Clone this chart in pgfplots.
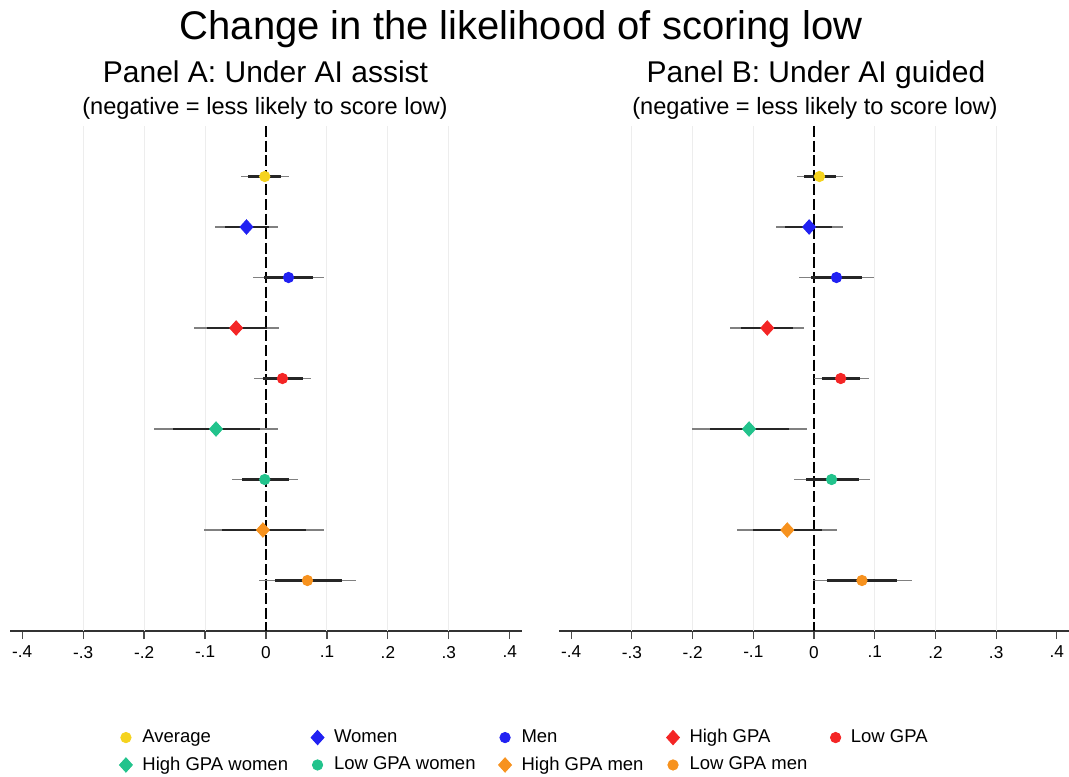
\documentclass[border=0pt]{standalone}
\usepackage{fontspec}
\setmainfont{Liberation Sans}
\usepackage{pgfplots}
\usepackage{pgfplotstable}
\pgfplotsset{compat=1.18}
\definecolor{cavg}{HTML}{F5D31E}
\definecolor{cblue}{HTML}{2121F2}
\definecolor{cred}{HTML}{F42525}
\definecolor{cteal}{HTML}{22C38C}
\definecolor{corange}{HTML}{F7921E}
\definecolor{gridc}{HTML}{EDEDED}

\pgfplotstableread{
row b lo95 hi95 lo90 hi90
1 -0.002 -0.041 0.037 -0.029 0.025
2 -0.032 -0.084 0.020 -0.068 0.005
3 0.037 -0.021 0.095 -0.003 0.077
4 -0.049 -0.118 0.022 -0.097 0.001
5 0.027 -0.019 0.074 -0.005 0.061
6 -0.082 -0.184 0.020 -0.153 -0.010
7 -0.002 -0.056 0.053 -0.040 0.037
8 -0.005 -0.102 0.095 -0.072 0.065
9 0.068 -0.011 0.148 0.014 0.125
}\panelA
\pgfplotstableread{
row b lo95 hi95 lo90 hi90
1 0.009 -0.028 0.048 -0.017 0.036
2 -0.008 -0.063 0.047 -0.047 0.030
3 0.037 -0.024 0.098 -0.005 0.079
4 -0.077 -0.139 -0.016 -0.121 -0.034
5 0.044 0.000 0.090 0.013 0.076
6 -0.107 -0.201 -0.012 -0.172 -0.041
7 0.029 -0.033 0.093 -0.014 0.074
8 -0.044 -0.127 0.038 -0.101 0.013
9 0.079 -0.001 0.162 0.022 0.137
}\panelB

\pgfplotsset{
  panel/.style={
    scale only axis, height=252.5pt,
    xmin=-0.42, xmax=0.42, ymin=0, ymax=10, y dir=reverse,
    axis x line*=bottom, axis y line=none,
    axis line style={draw=black!80, line width=0.6pt},
    xtick={-0.4,-0.3,-0.2,-0.1,0,0.1,0.2,0.3,0.4},
    xticklabels={-.4,-.3,-.2,-.1,0,.1,.2,.3,.4},
    xtick align=outside, major tick length=4pt,
    tick style={draw=black!70, line width=0.6pt},
    ticklabel style={font=\fontsize{8.6}{10}\selectfont},
    ytick=\empty,
    clip=false,
  },
  ci95/.style={only marks, mark=none, forget plot,
    error bars/.cd, x dir=both, x explicit, error mark=none,
    error bar style={draw=black!50, line width=0.7pt}},
  ci90/.style={only marks, mark=none, forget plot,
    error bars/.cd, x dir=both, x explicit, error mark=none,
    error bar style={draw=black!85, line width=1.4pt}},
  circ/.style={mark=*, mark size=2.6pt},
  diam/.style={mark=diamond*, mark size=3.6pt, mark options={xscale=1.2}},
}

\newcommand{\panelbody}[1]{%
  \pgfplotsinvokeforeach{-0.3,-0.2,-0.1,0.1,0.2,0.3}{\draw[gridc, line width=0.5pt] (axis cs:##1,0) -- (axis cs:##1,10);}
  \draw[black, line width=0.6pt, dash pattern=on 5.5pt off 1.8pt] (axis cs:0,0) -- (axis cs:0,10);
  \addplot[ci95] table[x=b, y=row, x error plus expr=\thisrow{hi95}-\thisrow{b}, x error minus expr=\thisrow{b}-\thisrow{lo95}] {#1};
  \addplot[ci90] table[x=b, y=row, x error plus expr=\thisrow{hi90}-\thisrow{b}, x error minus expr=\thisrow{b}-\thisrow{lo90}] {#1};
}

\begin{document}
\begin{tikzpicture}
\path[use as bounding box] (0,0) rectangle (534.5pt,388pt);

\begin{axis}[panel, width=256pt, at={(5pt,72.5pt)}, anchor=south west,
  legend columns=5,
  legend cell align=left,
  legend image code/.code={\draw[#1] plot coordinates {(0pt,0pt)};},
  legend style={at={(0.213,-0.19)}, anchor=north west, draw=none, fill=none,
    inner sep=0pt, font=\fontsize{9.25}{11}\selectfont,
    column sep=4pt, row sep=3.5pt,
    nodes={inner sep=1pt},
    /tikz/every even column/.append style={column sep=10.5pt}},
]
\panelbody{\panelA}
\addplot[circ, color=cavg] coordinates {(-0.002,1)};
\addlegendentry{Average}
\addplot[diam, color=cblue] coordinates {(-0.032,2)};
\addlegendentry{Women}
\addplot[circ, color=cblue] coordinates {(0.037,3)};
\addlegendentry{Men}
\addplot[diam, color=cred] coordinates {(-0.049,4)};
\addlegendentry{High GPA}
\addplot[circ, color=cred] coordinates {(0.027,5)};
\addlegendentry{Low GPA}
\addplot[diam, color=cteal] coordinates {(-0.082,6)};
\addlegendentry{High GPA women}
\addplot[circ, color=cteal] coordinates {(-0.002,7)};
\addlegendentry{Low GPA women}
\addplot[diam, color=corange] coordinates {(-0.005,8)};
\addlegendentry{High GPA men}
\addplot[circ, color=corange] coordinates {(0.068,9)};
\addlegendentry{Low GPA men}
\end{axis}

\begin{axis}[panel, width=255pt, at={(279.5pt,72.5pt)}, anchor=south west]
\panelbody{\panelB}
\addplot[circ, color=cavg] coordinates {(0.009,1)};
\addplot[diam, color=cblue] coordinates {(-0.008,2)};
\addplot[circ, color=cblue] coordinates {(0.037,3)};
\addplot[diam, color=cred] coordinates {(-0.077,4)};
\addplot[circ, color=cred] coordinates {(0.044,5)};
\addplot[diam, color=cteal] coordinates {(-0.107,6)};
\addplot[circ, color=cteal] coordinates {(0.029,7)};
\addplot[diam, color=corange] coordinates {(-0.044,8)};
\addplot[circ, color=corange] coordinates {(0.079,9)};
\end{axis}

\node[anchor=base, font=\fontsize{20}{24}\selectfont] at (260.5pt,368.25pt) {Change in the likelihood of scoring low};
\node[anchor=base, font=\fontsize{15}{18}\selectfont] at (132.75pt,346.65pt) {Panel A: Under AI assist};
\node[anchor=base, font=\fontsize{11.8}{14}\selectfont] at (132.5pt,330.75pt) {(negative = less likely to score low)};
\node[anchor=base, font=\fontsize{15}{18}\selectfont] at (408pt,346.65pt) {Panel B: Under AI guided};
\node[anchor=base, font=\fontsize{11.8}{14}\selectfont] at (407.5pt,330.75pt) {(negative = less likely to score low)};
\end{tikzpicture}
\end{document}
